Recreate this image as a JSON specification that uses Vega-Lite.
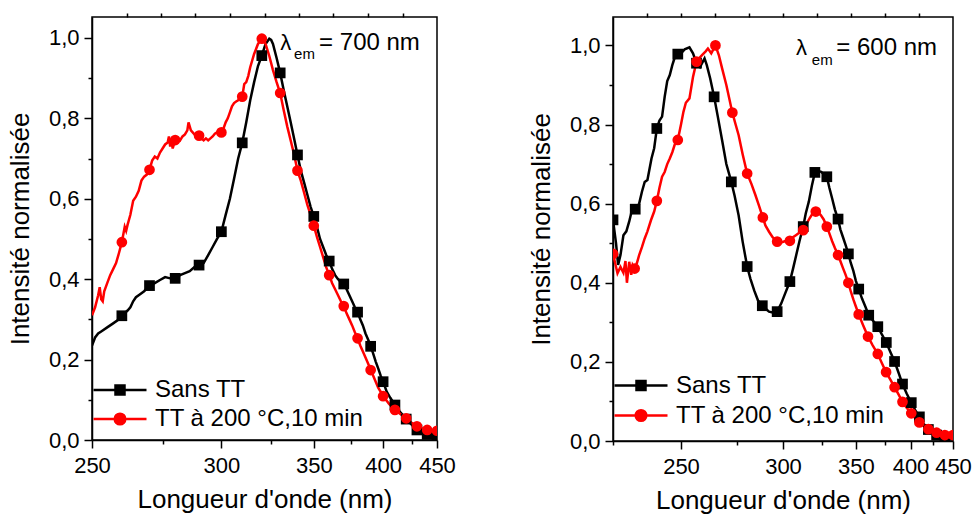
{
  "$schema": "https://vega.github.io/schema/vega-lite/v6.json",
  "background": "white",
  "padding": {"left": 6, "top": 11, "right": 5, "bottom": 0},
  "config": {
    "font": "Liberation Sans",
    "view": {"stroke": "black", "strokeWidth": 1.5},
    "axis": {
      "grid": false,
      "domainColor": "black",
      "domainWidth": 1.5,
      "tickColor": "black",
      "tickWidth": 1.5,
      "labelColor": "black",
      "titleColor": "black",
      "labelFontSize": 22,
      "titleFontSize": 26,
      "titleFontWeight": "normal",
      "labelFlush": false,
      "labelOverlap": false
    }
  },
  "datasets": {
    "L_line": [
      {"wl":250,"v":0.235,"series":"Sans TT"},{"wl":251,"v":0.255,"series":"Sans TT"},{"wl":252,"v":0.265,"series":"Sans TT"},{"wl":253,"v":0.27,"series":"Sans TT"},{"wl":255,"v":0.28,"series":"Sans TT"},{"wl":257,"v":0.29,"series":"Sans TT"},{"wl":259,"v":0.3,"series":"Sans TT"},{"wl":260,"v":0.309,"series":"Sans TT"},{"wl":262,"v":0.322,"series":"Sans TT"},{"wl":263,"v":0.33,"series":"Sans TT"},{"wl":264,"v":0.345,"series":"Sans TT"},{"wl":265,"v":0.355,"series":"Sans TT"},{"wl":266,"v":0.36,"series":"Sans TT"},{"wl":268,"v":0.37,"series":"Sans TT"},{"wl":270,"v":0.384,"series":"Sans TT"},{"wl":272,"v":0.39,"series":"Sans TT"},{"wl":274,"v":0.398,"series":"Sans TT"},{"wl":276,"v":0.405,"series":"Sans TT"},{"wl":278,"v":0.402,"series":"Sans TT"},{"wl":280,"v":0.402,"series":"Sans TT"},{"wl":282,"v":0.41,"series":"Sans TT"},{"wl":284,"v":0.415,"series":"Sans TT"},{"wl":286,"v":0.42,"series":"Sans TT"},{"wl":288,"v":0.43,"series":"Sans TT"},{"wl":290,"v":0.435,"series":"Sans TT"},{"wl":292,"v":0.44,"series":"Sans TT"},{"wl":294,"v":0.46,"series":"Sans TT"},{"wl":296,"v":0.48,"series":"Sans TT"},{"wl":298,"v":0.5,"series":"Sans TT"},{"wl":300,"v":0.518,"series":"Sans TT"},{"wl":302,"v":0.56,"series":"Sans TT"},{"wl":304,"v":0.6,"series":"Sans TT"},{"wl":306,"v":0.65,"series":"Sans TT"},{"wl":308,"v":0.7,"series":"Sans TT"},{"wl":310,"v":0.739,"series":"Sans TT"},{"wl":312,"v":0.79,"series":"Sans TT"},{"wl":314,"v":0.845,"series":"Sans TT"},{"wl":316,"v":0.89,"series":"Sans TT"},{"wl":318,"v":0.93,"series":"Sans TT"},{"wl":320,"v":0.956,"series":"Sans TT"},{"wl":322,"v":0.985,"series":"Sans TT"},{"wl":324,"v":0.998,"series":"Sans TT"},{"wl":325,"v":0.995,"series":"Sans TT"},{"wl":326,"v":0.985,"series":"Sans TT"},{"wl":328,"v":0.95,"series":"Sans TT"},{"wl":330,"v":0.913,"series":"Sans TT"},{"wl":332,"v":0.87,"series":"Sans TT"},{"wl":334,"v":0.83,"series":"Sans TT"},{"wl":336,"v":0.79,"series":"Sans TT"},{"wl":338,"v":0.75,"series":"Sans TT"},{"wl":340,"v":0.709,"series":"Sans TT"},{"wl":342,"v":0.67,"series":"Sans TT"},{"wl":344,"v":0.64,"series":"Sans TT"},{"wl":346,"v":0.61,"series":"Sans TT"},{"wl":348,"v":0.58,"series":"Sans TT"},{"wl":350,"v":0.556,"series":"Sans TT"},{"wl":352,"v":0.53,"series":"Sans TT"},{"wl":354,"v":0.5,"series":"Sans TT"},{"wl":356,"v":0.48,"series":"Sans TT"},{"wl":358,"v":0.46,"series":"Sans TT"},{"wl":360,"v":0.445,"series":"Sans TT"},{"wl":362,"v":0.425,"series":"Sans TT"},{"wl":364,"v":0.41,"series":"Sans TT"},{"wl":366,"v":0.4,"series":"Sans TT"},{"wl":368,"v":0.393,"series":"Sans TT"},{"wl":370,"v":0.388,"series":"Sans TT"},{"wl":372,"v":0.375,"series":"Sans TT"},{"wl":374,"v":0.36,"series":"Sans TT"},{"wl":376,"v":0.345,"series":"Sans TT"},{"wl":378,"v":0.33,"series":"Sans TT"},{"wl":380,"v":0.318,"series":"Sans TT"},{"wl":382,"v":0.3,"series":"Sans TT"},{"wl":384,"v":0.285,"series":"Sans TT"},{"wl":386,"v":0.265,"series":"Sans TT"},{"wl":388,"v":0.25,"series":"Sans TT"},{"wl":390,"v":0.233,"series":"Sans TT"},{"wl":392,"v":0.215,"series":"Sans TT"},{"wl":394,"v":0.195,"series":"Sans TT"},{"wl":396,"v":0.178,"series":"Sans TT"},{"wl":398,"v":0.16,"series":"Sans TT"},{"wl":400,"v":0.145,"series":"Sans TT"},{"wl":403,"v":0.12,"series":"Sans TT"},{"wl":406,"v":0.105,"series":"Sans TT"},{"wl":410,"v":0.087,"series":"Sans TT"},{"wl":415,"v":0.068,"series":"Sans TT"},{"wl":420,"v":0.052,"series":"Sans TT"},{"wl":425,"v":0.038,"series":"Sans TT"},{"wl":430,"v":0.025,"series":"Sans TT"},{"wl":435,"v":0.018,"series":"Sans TT"},{"wl":440,"v":0.014,"series":"Sans TT"},{"wl":445,"v":0.01,"series":"Sans TT"},{"wl":450,"v":0.006,"series":"Sans TT"},
      {"wl":250,"v":0.31,"series":"TT à 200 °C,10 min"},{"wl":251,"v":0.33,"series":"TT à 200 °C,10 min"},{"wl":252,"v":0.36,"series":"TT à 200 °C,10 min"},{"wl":252.5,"v":0.38,"series":"TT à 200 °C,10 min"},{"wl":253,"v":0.35,"series":"TT à 200 °C,10 min"},{"wl":253.5,"v":0.345,"series":"TT à 200 °C,10 min"},{"wl":254,"v":0.37,"series":"TT à 200 °C,10 min"},{"wl":255,"v":0.39,"series":"TT à 200 °C,10 min"},{"wl":256,"v":0.41,"series":"TT à 200 °C,10 min"},{"wl":257,"v":0.425,"series":"TT à 200 °C,10 min"},{"wl":258,"v":0.44,"series":"TT à 200 °C,10 min"},{"wl":259,"v":0.465,"series":"TT à 200 °C,10 min"},{"wl":260,"v":0.492,"series":"TT à 200 °C,10 min"},{"wl":261,"v":0.53,"series":"TT à 200 °C,10 min"},{"wl":261.5,"v":0.52,"series":"TT à 200 °C,10 min"},{"wl":262,"v":0.535,"series":"TT à 200 °C,10 min"},{"wl":263,"v":0.56,"series":"TT à 200 °C,10 min"},{"wl":264,"v":0.595,"series":"TT à 200 °C,10 min"},{"wl":265,"v":0.605,"series":"TT à 200 °C,10 min"},{"wl":266,"v":0.62,"series":"TT à 200 °C,10 min"},{"wl":267,"v":0.645,"series":"TT à 200 °C,10 min"},{"wl":268,"v":0.655,"series":"TT à 200 °C,10 min"},{"wl":269,"v":0.66,"series":"TT à 200 °C,10 min"},{"wl":270,"v":0.672,"series":"TT à 200 °C,10 min"},{"wl":271,"v":0.695,"series":"TT à 200 °C,10 min"},{"wl":272,"v":0.705,"series":"TT à 200 °C,10 min"},{"wl":273,"v":0.7,"series":"TT à 200 °C,10 min"},{"wl":274,"v":0.715,"series":"TT à 200 °C,10 min"},{"wl":275,"v":0.725,"series":"TT à 200 °C,10 min"},{"wl":276,"v":0.735,"series":"TT à 200 °C,10 min"},{"wl":277,"v":0.74,"series":"TT à 200 °C,10 min"},{"wl":277.5,"v":0.755,"series":"TT à 200 °C,10 min"},{"wl":278,"v":0.73,"series":"TT à 200 °C,10 min"},{"wl":278.5,"v":0.745,"series":"TT à 200 °C,10 min"},{"wl":279,"v":0.725,"series":"TT à 200 °C,10 min"},{"wl":280,"v":0.746,"series":"TT à 200 °C,10 min"},{"wl":281,"v":0.75,"series":"TT à 200 °C,10 min"},{"wl":282,"v":0.745,"series":"TT à 200 °C,10 min"},{"wl":283,"v":0.755,"series":"TT à 200 °C,10 min"},{"wl":284,"v":0.76,"series":"TT à 200 °C,10 min"},{"wl":285,"v":0.77,"series":"TT à 200 °C,10 min"},{"wl":285.5,"v":0.79,"series":"TT à 200 °C,10 min"},{"wl":286.5,"v":0.77,"series":"TT à 200 °C,10 min"},{"wl":288,"v":0.76,"series":"TT à 200 °C,10 min"},{"wl":289,"v":0.755,"series":"TT à 200 °C,10 min"},{"wl":290,"v":0.757,"series":"TT à 200 °C,10 min"},{"wl":291,"v":0.75,"series":"TT à 200 °C,10 min"},{"wl":292,"v":0.745,"series":"TT à 200 °C,10 min"},{"wl":293,"v":0.75,"series":"TT à 200 °C,10 min"},{"wl":294,"v":0.745,"series":"TT à 200 °C,10 min"},{"wl":295,"v":0.75,"series":"TT à 200 °C,10 min"},{"wl":296,"v":0.755,"series":"TT à 200 °C,10 min"},{"wl":297,"v":0.762,"series":"TT à 200 °C,10 min"},{"wl":298,"v":0.765,"series":"TT à 200 °C,10 min"},{"wl":299,"v":0.76,"series":"TT à 200 °C,10 min"},{"wl":300,"v":0.765,"series":"TT à 200 °C,10 min"},{"wl":301,"v":0.775,"series":"TT à 200 °C,10 min"},{"wl":302,"v":0.79,"series":"TT à 200 °C,10 min"},{"wl":303,"v":0.8,"series":"TT à 200 °C,10 min"},{"wl":304,"v":0.815,"series":"TT à 200 °C,10 min"},{"wl":305,"v":0.83,"series":"TT à 200 °C,10 min"},{"wl":306,"v":0.838,"series":"TT à 200 °C,10 min"},{"wl":307,"v":0.842,"series":"TT à 200 °C,10 min"},{"wl":308,"v":0.845,"series":"TT à 200 °C,10 min"},{"wl":309,"v":0.85,"series":"TT à 200 °C,10 min"},{"wl":310,"v":0.854,"series":"TT à 200 °C,10 min"},{"wl":311,"v":0.885,"series":"TT à 200 °C,10 min"},{"wl":312,"v":0.89,"series":"TT à 200 °C,10 min"},{"wl":313,"v":0.905,"series":"TT à 200 °C,10 min"},{"wl":314,"v":0.927,"series":"TT à 200 °C,10 min"},{"wl":316,"v":0.96,"series":"TT à 200 °C,10 min"},{"wl":318,"v":0.985,"series":"TT à 200 °C,10 min"},{"wl":320,"v":0.998,"series":"TT à 200 °C,10 min"},{"wl":321,"v":0.995,"series":"TT à 200 °C,10 min"},{"wl":322,"v":0.985,"series":"TT à 200 °C,10 min"},{"wl":324,"v":0.955,"series":"TT à 200 °C,10 min"},{"wl":326,"v":0.92,"series":"TT à 200 °C,10 min"},{"wl":328,"v":0.89,"series":"TT à 200 °C,10 min"},{"wl":330,"v":0.863,"series":"TT à 200 °C,10 min"},{"wl":332,"v":0.82,"series":"TT à 200 °C,10 min"},{"wl":334,"v":0.78,"series":"TT à 200 °C,10 min"},{"wl":336,"v":0.745,"series":"TT à 200 °C,10 min"},{"wl":338,"v":0.71,"series":"TT à 200 °C,10 min"},{"wl":340,"v":0.67,"series":"TT à 200 °C,10 min"},{"wl":342,"v":0.645,"series":"TT à 200 °C,10 min"},{"wl":344,"v":0.615,"series":"TT à 200 °C,10 min"},{"wl":346,"v":0.585,"series":"TT à 200 °C,10 min"},{"wl":348,"v":0.56,"series":"TT à 200 °C,10 min"},{"wl":350,"v":0.533,"series":"TT à 200 °C,10 min"},{"wl":352,"v":0.505,"series":"TT à 200 °C,10 min"},{"wl":354,"v":0.48,"series":"TT à 200 °C,10 min"},{"wl":356,"v":0.455,"series":"TT à 200 °C,10 min"},{"wl":358,"v":0.43,"series":"TT à 200 °C,10 min"},{"wl":360,"v":0.41,"series":"TT à 200 °C,10 min"},{"wl":362,"v":0.39,"series":"TT à 200 °C,10 min"},{"wl":364,"v":0.375,"series":"TT à 200 °C,10 min"},{"wl":366,"v":0.36,"series":"TT à 200 °C,10 min"},{"wl":368,"v":0.345,"series":"TT à 200 °C,10 min"},{"wl":370,"v":0.333,"series":"TT à 200 °C,10 min"},{"wl":372,"v":0.315,"series":"TT à 200 °C,10 min"},{"wl":374,"v":0.3,"series":"TT à 200 °C,10 min"},{"wl":376,"v":0.285,"series":"TT à 200 °C,10 min"},{"wl":378,"v":0.268,"series":"TT à 200 °C,10 min"},{"wl":380,"v":0.253,"series":"TT à 200 °C,10 min"},{"wl":382,"v":0.235,"series":"TT à 200 °C,10 min"},{"wl":384,"v":0.22,"series":"TT à 200 °C,10 min"},{"wl":386,"v":0.205,"series":"TT à 200 °C,10 min"},{"wl":388,"v":0.19,"series":"TT à 200 °C,10 min"},{"wl":390,"v":0.174,"series":"TT à 200 °C,10 min"},{"wl":392,"v":0.16,"series":"TT à 200 °C,10 min"},{"wl":394,"v":0.145,"series":"TT à 200 °C,10 min"},{"wl":396,"v":0.13,"series":"TT à 200 °C,10 min"},{"wl":398,"v":0.12,"series":"TT à 200 °C,10 min"},{"wl":400,"v":0.109,"series":"TT à 200 °C,10 min"},{"wl":405,"v":0.09,"series":"TT à 200 °C,10 min"},{"wl":410,"v":0.075,"series":"TT à 200 °C,10 min"},{"wl":415,"v":0.064,"series":"TT à 200 °C,10 min"},{"wl":420,"v":0.054,"series":"TT à 200 °C,10 min"},{"wl":425,"v":0.043,"series":"TT à 200 °C,10 min"},{"wl":430,"v":0.034,"series":"TT à 200 °C,10 min"},{"wl":435,"v":0.029,"series":"TT à 200 °C,10 min"},{"wl":440,"v":0.025,"series":"TT à 200 °C,10 min"},{"wl":445,"v":0.024,"series":"TT à 200 °C,10 min"},{"wl":450,"v":0.023,"series":"TT à 200 °C,10 min"}
    ],
    "L_pts": [
      {"wl":260,"v":0.309,"series":"Sans TT"},{"wl":270,"v":0.384,"series":"Sans TT"},{"wl":280,"v":0.402,"series":"Sans TT"},{"wl":290,"v":0.435,"series":"Sans TT"},{"wl":300,"v":0.518,"series":"Sans TT"},{"wl":310,"v":0.739,"series":"Sans TT"},{"wl":320,"v":0.956,"series":"Sans TT"},{"wl":330,"v":0.913,"series":"Sans TT"},{"wl":340,"v":0.709,"series":"Sans TT"},{"wl":350,"v":0.556,"series":"Sans TT"},{"wl":360,"v":0.445,"series":"Sans TT"},{"wl":370,"v":0.388,"series":"Sans TT"},{"wl":380,"v":0.318,"series":"Sans TT"},{"wl":390,"v":0.233,"series":"Sans TT"},{"wl":400,"v":0.145,"series":"Sans TT"},{"wl":410,"v":0.087,"series":"Sans TT"},{"wl":420,"v":0.052,"series":"Sans TT"},{"wl":430,"v":0.025,"series":"Sans TT"},{"wl":440,"v":0.014,"series":"Sans TT"},{"wl":450,"v":0.006,"series":"Sans TT"},
      {"wl":260,"v":0.492,"series":"TT à 200 °C,10 min"},{"wl":270,"v":0.672,"series":"TT à 200 °C,10 min"},{"wl":280,"v":0.746,"series":"TT à 200 °C,10 min"},{"wl":290,"v":0.757,"series":"TT à 200 °C,10 min"},{"wl":300,"v":0.765,"series":"TT à 200 °C,10 min"},{"wl":310,"v":0.854,"series":"TT à 200 °C,10 min"},{"wl":320,"v":0.998,"series":"TT à 200 °C,10 min"},{"wl":330,"v":0.863,"series":"TT à 200 °C,10 min"},{"wl":340,"v":0.67,"series":"TT à 200 °C,10 min"},{"wl":350,"v":0.533,"series":"TT à 200 °C,10 min"},{"wl":360,"v":0.41,"series":"TT à 200 °C,10 min"},{"wl":370,"v":0.333,"series":"TT à 200 °C,10 min"},{"wl":380,"v":0.253,"series":"TT à 200 °C,10 min"},{"wl":390,"v":0.174,"series":"TT à 200 °C,10 min"},{"wl":400,"v":0.109,"series":"TT à 200 °C,10 min"},{"wl":410,"v":0.075,"series":"TT à 200 °C,10 min"},{"wl":420,"v":0.054,"series":"TT à 200 °C,10 min"},{"wl":430,"v":0.034,"series":"TT à 200 °C,10 min"},{"wl":440,"v":0.025,"series":"TT à 200 °C,10 min"},{"wl":450,"v":0.023,"series":"TT à 200 °C,10 min"}
    ],
    "R_line": [
      {"wl":225,"v":0.559,"series":"Sans TT"},{"wl":226,"v":0.5,"series":"Sans TT"},{"wl":226.7,"v":0.445,"series":"Sans TT"},{"wl":227.5,"v":0.47,"series":"Sans TT"},{"wl":228.5,"v":0.52,"series":"Sans TT"},{"wl":229.5,"v":0.53,"series":"Sans TT"},{"wl":230.5,"v":0.555,"series":"Sans TT"},{"wl":231.5,"v":0.585,"series":"Sans TT"},{"wl":232.6,"v":0.586,"series":"Sans TT"},{"wl":234,"v":0.6,"series":"Sans TT"},{"wl":235,"v":0.63,"series":"Sans TT"},{"wl":236,"v":0.655,"series":"Sans TT"},{"wl":237,"v":0.66,"series":"Sans TT"},{"wl":238.5,"v":0.714,"series":"Sans TT"},{"wl":239.5,"v":0.74,"series":"Sans TT"},{"wl":240.5,"v":0.79,"series":"Sans TT"},{"wl":241.5,"v":0.81,"series":"Sans TT"},{"wl":242.5,"v":0.82,"series":"Sans TT"},{"wl":243.5,"v":0.87,"series":"Sans TT"},{"wl":244.5,"v":0.91,"series":"Sans TT"},{"wl":245.5,"v":0.925,"series":"Sans TT"},{"wl":246.5,"v":0.95,"series":"Sans TT"},{"wl":247.5,"v":0.97,"series":"Sans TT"},{"wl":248.7,"v":0.978,"series":"Sans TT"},{"wl":250,"v":0.98,"series":"Sans TT"},{"wl":251.5,"v":0.99,"series":"Sans TT"},{"wl":253.5,"v":0.995,"series":"Sans TT"},{"wl":255,"v":0.98,"series":"Sans TT"},{"wl":256.5,"v":0.955,"series":"Sans TT"},{"wl":258,"v":0.945,"series":"Sans TT"},{"wl":260,"v":0.967,"series":"Sans TT"},{"wl":261,"v":0.95,"series":"Sans TT"},{"wl":262.5,"v":0.917,"series":"Sans TT"},{"wl":264.3,"v":0.87,"series":"Sans TT"},{"wl":266,"v":0.82,"series":"Sans TT"},{"wl":268,"v":0.76,"series":"Sans TT"},{"wl":270,"v":0.7,"series":"Sans TT"},{"wl":272.4,"v":0.655,"series":"Sans TT"},{"wl":274,"v":0.62,"series":"Sans TT"},{"wl":276,"v":0.57,"series":"Sans TT"},{"wl":278,"v":0.504,"series":"Sans TT"},{"wl":280.3,"v":0.441,"series":"Sans TT"},{"wl":282,"v":0.41,"series":"Sans TT"},{"wl":284,"v":0.38,"series":"Sans TT"},{"wl":286,"v":0.355,"series":"Sans TT"},{"wl":288.3,"v":0.342,"series":"Sans TT"},{"wl":290,"v":0.335,"series":"Sans TT"},{"wl":292,"v":0.327,"series":"Sans TT"},{"wl":294,"v":0.325,"series":"Sans TT"},{"wl":296.6,"v":0.327,"series":"Sans TT"},{"wl":299,"v":0.348,"series":"Sans TT"},{"wl":301,"v":0.37,"series":"Sans TT"},{"wl":304.1,"v":0.403,"series":"Sans TT"},{"wl":306,"v":0.435,"series":"Sans TT"},{"wl":308,"v":0.47,"series":"Sans TT"},{"wl":310,"v":0.505,"series":"Sans TT"},{"wl":312.4,"v":0.542,"series":"Sans TT"},{"wl":314,"v":0.575,"series":"Sans TT"},{"wl":316,"v":0.605,"series":"Sans TT"},{"wl":318,"v":0.645,"series":"Sans TT"},{"wl":320,"v":0.679,"series":"Sans TT"},{"wl":322,"v":0.682,"series":"Sans TT"},{"wl":324,"v":0.681,"series":"Sans TT"},{"wl":326,"v":0.675,"series":"Sans TT"},{"wl":328.2,"v":0.668,"series":"Sans TT"},{"wl":330,"v":0.64,"series":"Sans TT"},{"wl":332,"v":0.613,"series":"Sans TT"},{"wl":334,"v":0.585,"series":"Sans TT"},{"wl":336.3,"v":0.561,"series":"Sans TT"},{"wl":338,"v":0.535,"series":"Sans TT"},{"wl":340,"v":0.515,"series":"Sans TT"},{"wl":342,"v":0.495,"series":"Sans TT"},{"wl":344.1,"v":0.473,"series":"Sans TT"},{"wl":346,"v":0.45,"series":"Sans TT"},{"wl":348,"v":0.43,"series":"Sans TT"},{"wl":350,"v":0.405,"series":"Sans TT"},{"wl":352.3,"v":0.384,"series":"Sans TT"},{"wl":355,"v":0.36,"series":"Sans TT"},{"wl":358,"v":0.338,"series":"Sans TT"},{"wl":360.6,"v":0.318,"series":"Sans TT"},{"wl":364,"v":0.305,"series":"Sans TT"},{"wl":368.5,"v":0.289,"series":"Sans TT"},{"wl":372,"v":0.27,"series":"Sans TT"},{"wl":376.2,"v":0.249,"series":"Sans TT"},{"wl":380,"v":0.225,"series":"Sans TT"},{"wl":384,"v":0.201,"series":"Sans TT"},{"wl":388,"v":0.172,"series":"Sans TT"},{"wl":391.8,"v":0.144,"series":"Sans TT"},{"wl":396,"v":0.12,"series":"Sans TT"},{"wl":400.8,"v":0.097,"series":"Sans TT"},{"wl":405,"v":0.078,"series":"Sans TT"},{"wl":409.5,"v":0.061,"series":"Sans TT"},{"wl":414,"v":0.044,"series":"Sans TT"},{"wl":419.6,"v":0.029,"series":"Sans TT"},{"wl":425,"v":0.02,"series":"Sans TT"},{"wl":429.3,"v":0.015,"series":"Sans TT"},{"wl":435,"v":0.01,"series":"Sans TT"},{"wl":439.5,"v":0.007,"series":"Sans TT"},{"wl":445,"v":0.005,"series":"Sans TT"},{"wl":450,"v":0.004,"series":"Sans TT"},
      {"wl":225,"v":0.473,"series":"TT à 200 °C,10 min"},{"wl":225.7,"v":0.45,"series":"TT à 200 °C,10 min"},{"wl":226.5,"v":0.424,"series":"TT à 200 °C,10 min"},{"wl":227.5,"v":0.44,"series":"TT à 200 °C,10 min"},{"wl":228.5,"v":0.425,"series":"TT à 200 °C,10 min"},{"wl":229.2,"v":0.455,"series":"TT à 200 °C,10 min"},{"wl":229.7,"v":0.4,"series":"TT à 200 °C,10 min"},{"wl":230.5,"v":0.453,"series":"TT à 200 °C,10 min"},{"wl":231.2,"v":0.42,"series":"TT à 200 °C,10 min"},{"wl":231.7,"v":0.445,"series":"TT à 200 °C,10 min"},{"wl":232.4,"v":0.436,"series":"TT à 200 °C,10 min"},{"wl":233.2,"v":0.45,"series":"TT à 200 °C,10 min"},{"wl":234,"v":0.47,"series":"TT à 200 °C,10 min"},{"wl":235,"v":0.49,"series":"TT à 200 °C,10 min"},{"wl":236,"v":0.512,"series":"TT à 200 °C,10 min"},{"wl":237,"v":0.53,"series":"TT à 200 °C,10 min"},{"wl":238.3,"v":0.558,"series":"TT à 200 °C,10 min"},{"wl":239.5,"v":0.58,"series":"TT à 200 °C,10 min"},{"wl":240.5,"v":0.607,"series":"TT à 200 °C,10 min"},{"wl":241.5,"v":0.64,"series":"TT à 200 °C,10 min"},{"wl":242.5,"v":0.668,"series":"TT à 200 °C,10 min"},{"wl":243.5,"v":0.68,"series":"TT à 200 °C,10 min"},{"wl":244.5,"v":0.7,"series":"TT à 200 °C,10 min"},{"wl":245.5,"v":0.714,"series":"TT à 200 °C,10 min"},{"wl":246.5,"v":0.73,"series":"TT à 200 °C,10 min"},{"wl":247.5,"v":0.75,"series":"TT à 200 °C,10 min"},{"wl":248.7,"v":0.761,"series":"TT à 200 °C,10 min"},{"wl":250,"v":0.8,"series":"TT à 200 °C,10 min"},{"wl":251,"v":0.832,"series":"TT à 200 °C,10 min"},{"wl":252,"v":0.855,"series":"TT à 200 °C,10 min"},{"wl":253.5,"v":0.866,"series":"TT à 200 °C,10 min"},{"wl":255,"v":0.92,"series":"TT à 200 °C,10 min"},{"wl":256.5,"v":0.959,"series":"TT à 200 °C,10 min"},{"wl":258,"v":0.97,"series":"TT à 200 °C,10 min"},{"wl":259,"v":0.976,"series":"TT à 200 °C,10 min"},{"wl":260.5,"v":0.985,"series":"TT à 200 °C,10 min"},{"wl":261.5,"v":0.992,"series":"TT à 200 °C,10 min"},{"wl":263,"v":0.98,"series":"TT à 200 °C,10 min"},{"wl":264.9,"v":1.0,"series":"TT à 200 °C,10 min"},{"wl":266.5,"v":0.975,"series":"TT à 200 °C,10 min"},{"wl":268,"v":0.942,"series":"TT à 200 °C,10 min"},{"wl":270,"v":0.9,"series":"TT à 200 °C,10 min"},{"wl":272.9,"v":0.83,"series":"TT à 200 °C,10 min"},{"wl":274.5,"v":0.8,"series":"TT à 200 °C,10 min"},{"wl":276,"v":0.773,"series":"TT à 200 °C,10 min"},{"wl":278,"v":0.725,"series":"TT à 200 °C,10 min"},{"wl":280.3,"v":0.676,"series":"TT à 200 °C,10 min"},{"wl":282.5,"v":0.65,"series":"TT à 200 °C,10 min"},{"wl":284.5,"v":0.623,"series":"TT à 200 °C,10 min"},{"wl":286.5,"v":0.595,"series":"TT à 200 °C,10 min"},{"wl":288.6,"v":0.565,"series":"TT à 200 °C,10 min"},{"wl":290,"v":0.545,"series":"TT à 200 °C,10 min"},{"wl":292,"v":0.529,"series":"TT à 200 °C,10 min"},{"wl":294,"v":0.515,"series":"TT à 200 °C,10 min"},{"wl":296.6,"v":0.504,"series":"TT à 200 °C,10 min"},{"wl":299,"v":0.502,"series":"TT à 200 °C,10 min"},{"wl":301,"v":0.505,"series":"TT à 200 °C,10 min"},{"wl":304.1,"v":0.506,"series":"TT à 200 °C,10 min"},{"wl":306,"v":0.515,"series":"TT à 200 °C,10 min"},{"wl":308,"v":0.521,"series":"TT à 200 °C,10 min"},{"wl":310,"v":0.527,"series":"TT à 200 °C,10 min"},{"wl":312.4,"v":0.533,"series":"TT à 200 °C,10 min"},{"wl":314,"v":0.545,"series":"TT à 200 °C,10 min"},{"wl":316.5,"v":0.563,"series":"TT à 200 °C,10 min"},{"wl":318.5,"v":0.575,"series":"TT à 200 °C,10 min"},{"wl":320.6,"v":0.58,"series":"TT à 200 °C,10 min"},{"wl":322,"v":0.578,"series":"TT à 200 °C,10 min"},{"wl":324,"v":0.571,"series":"TT à 200 °C,10 min"},{"wl":326,"v":0.56,"series":"TT à 200 °C,10 min"},{"wl":328.2,"v":0.542,"series":"TT à 200 °C,10 min"},{"wl":330,"v":0.525,"series":"TT à 200 °C,10 min"},{"wl":332,"v":0.505,"series":"TT à 200 °C,10 min"},{"wl":334,"v":0.488,"series":"TT à 200 °C,10 min"},{"wl":336.3,"v":0.47,"series":"TT à 200 °C,10 min"},{"wl":338,"v":0.455,"series":"TT à 200 °C,10 min"},{"wl":340,"v":0.437,"series":"TT à 200 °C,10 min"},{"wl":342,"v":0.42,"series":"TT à 200 °C,10 min"},{"wl":344.1,"v":0.4,"series":"TT à 200 °C,10 min"},{"wl":346,"v":0.378,"series":"TT à 200 °C,10 min"},{"wl":348,"v":0.358,"series":"TT à 200 °C,10 min"},{"wl":350,"v":0.34,"series":"TT à 200 °C,10 min"},{"wl":352.3,"v":0.32,"series":"TT à 200 °C,10 min"},{"wl":356,"v":0.292,"series":"TT à 200 °C,10 min"},{"wl":360,"v":0.264,"series":"TT à 200 °C,10 min"},{"wl":364,"v":0.242,"series":"TT à 200 °C,10 min"},{"wl":368.5,"v":0.22,"series":"TT à 200 °C,10 min"},{"wl":372,"v":0.198,"series":"TT à 200 °C,10 min"},{"wl":376,"v":0.174,"series":"TT à 200 °C,10 min"},{"wl":380,"v":0.155,"series":"TT à 200 °C,10 min"},{"wl":384,"v":0.136,"series":"TT à 200 °C,10 min"},{"wl":388,"v":0.117,"series":"TT à 200 °C,10 min"},{"wl":391.8,"v":0.099,"series":"TT à 200 °C,10 min"},{"wl":396,"v":0.084,"series":"TT à 200 °C,10 min"},{"wl":400.8,"v":0.07,"series":"TT à 200 °C,10 min"},{"wl":405,"v":0.058,"series":"TT à 200 °C,10 min"},{"wl":409.5,"v":0.047,"series":"TT à 200 °C,10 min"},{"wl":414,"v":0.038,"series":"TT à 200 °C,10 min"},{"wl":419.6,"v":0.03,"series":"TT à 200 °C,10 min"},{"wl":425,"v":0.025,"series":"TT à 200 °C,10 min"},{"wl":429.3,"v":0.021,"series":"TT à 200 °C,10 min"},{"wl":435,"v":0.018,"series":"TT à 200 °C,10 min"},{"wl":439.5,"v":0.015,"series":"TT à 200 °C,10 min"},{"wl":445,"v":0.015,"series":"TT à 200 °C,10 min"},{"wl":450,"v":0.015,"series":"TT à 200 °C,10 min"}
    ],
    "R_pts": [
      {"wl":225,"v":0.559,"series":"Sans TT"},{"wl":232.6,"v":0.586,"series":"Sans TT"},{"wl":240.5,"v":0.79,"series":"Sans TT"},{"wl":248.7,"v":0.978,"series":"Sans TT"},{"wl":256.5,"v":0.955,"series":"Sans TT"},{"wl":264.3,"v":0.87,"series":"Sans TT"},{"wl":272.4,"v":0.655,"series":"Sans TT"},{"wl":280.3,"v":0.441,"series":"Sans TT"},{"wl":288.3,"v":0.342,"series":"Sans TT"},{"wl":296.6,"v":0.327,"series":"Sans TT"},{"wl":304.1,"v":0.403,"series":"Sans TT"},{"wl":312.4,"v":0.542,"series":"Sans TT"},{"wl":320,"v":0.679,"series":"Sans TT"},{"wl":328.2,"v":0.668,"series":"Sans TT"},{"wl":336.3,"v":0.561,"series":"Sans TT"},{"wl":344.1,"v":0.473,"series":"Sans TT"},{"wl":352.3,"v":0.384,"series":"Sans TT"},{"wl":360.6,"v":0.318,"series":"Sans TT"},{"wl":368.5,"v":0.289,"series":"Sans TT"},{"wl":376.2,"v":0.249,"series":"Sans TT"},{"wl":384,"v":0.201,"series":"Sans TT"},{"wl":391.8,"v":0.144,"series":"Sans TT"},{"wl":400.8,"v":0.097,"series":"Sans TT"},{"wl":409.5,"v":0.061,"series":"Sans TT"},{"wl":419.6,"v":0.029,"series":"Sans TT"},{"wl":429.3,"v":0.015,"series":"Sans TT"},{"wl":439.5,"v":0.007,"series":"Sans TT"},
      {"wl":225,"v":0.473,"series":"TT à 200 °C,10 min"},{"wl":232.4,"v":0.436,"series":"TT à 200 °C,10 min"},{"wl":240.5,"v":0.607,"series":"TT à 200 °C,10 min"},{"wl":248.7,"v":0.761,"series":"TT à 200 °C,10 min"},{"wl":256.5,"v":0.959,"series":"TT à 200 °C,10 min"},{"wl":264.9,"v":1.0,"series":"TT à 200 °C,10 min"},{"wl":272.9,"v":0.83,"series":"TT à 200 °C,10 min"},{"wl":280.3,"v":0.676,"series":"TT à 200 °C,10 min"},{"wl":288.6,"v":0.565,"series":"TT à 200 °C,10 min"},{"wl":296.6,"v":0.504,"series":"TT à 200 °C,10 min"},{"wl":304.1,"v":0.506,"series":"TT à 200 °C,10 min"},{"wl":312.4,"v":0.533,"series":"TT à 200 °C,10 min"},{"wl":320.6,"v":0.58,"series":"TT à 200 °C,10 min"},{"wl":328.2,"v":0.542,"series":"TT à 200 °C,10 min"},{"wl":336.3,"v":0.47,"series":"TT à 200 °C,10 min"},{"wl":344.1,"v":0.4,"series":"TT à 200 °C,10 min"},{"wl":352.3,"v":0.32,"series":"TT à 200 °C,10 min"},{"wl":360,"v":0.264,"series":"TT à 200 °C,10 min"},{"wl":368.5,"v":0.22,"series":"TT à 200 °C,10 min"},{"wl":376,"v":0.174,"series":"TT à 200 °C,10 min"},{"wl":384,"v":0.136,"series":"TT à 200 °C,10 min"},{"wl":391.8,"v":0.099,"series":"TT à 200 °C,10 min"},{"wl":400.8,"v":0.07,"series":"TT à 200 °C,10 min"},{"wl":409.5,"v":0.047,"series":"TT à 200 °C,10 min"},{"wl":419.6,"v":0.03,"series":"TT à 200 °C,10 min"},{"wl":429.3,"v":0.021,"series":"TT à 200 °C,10 min"},{"wl":439.5,"v":0.015,"series":"TT à 200 °C,10 min"},{"wl":450,"v":0.015,"series":"TT à 200 °C,10 min"}
    ]
  },
  "spacing": 70,
  "resolve": {"scale": {"color": "independent"}},
  "hconcat": [
    {
      "width": 345,
      "height": 423,
      "resolve": {"axis": {"x": "independent"}},
      "layer": [
        {
          "data": {"name": "L_line"},
          "mark": {"type": "line", "strokeWidth": 2.5, "clip": true},
          "encoding": {
            "x": {
              "field": "wl", "type": "quantitative", "title": "Longueur d'onde (nm)",
              "scale": {"type": "pow", "exponent": -1, "domain": [250, 450], "nice": false, "zero": false},
              "axis": {
                "orient": "bottom",
                "values": [250, 275, 300, 325, 350, 375, 400, 425, 450],
                "labelExpr": "datum.value % 50 === 0 ? datum.label : ''",
                "tickSize": {"condition": {"test": "datum.value % 50 !== 0", "value": 4}, "value": 8},
                "labelPadding": 7,
                "titlePadding": 10
              }
            },
            "y": {
              "field": "v", "type": "quantitative", "title": "Intensité normalisée",
              "scale": {"domain": [0, 1.052], "nice": false, "zero": false},
              "axis": {
                "values": [0, 0.1, 0.2, 0.3, 0.4, 0.5, 0.6, 0.7, 0.8, 0.9, 1.0],
                "labelExpr": "round(datum.value * 10) % 2 === 1 ? '' : replace(format(datum.value, '.1f'), '.', ',')",
                "tickSize": {"condition": {"test": "round(datum.value * 10) % 2 === 1", "value": 4}, "value": 8},
                "labelPadding": 5,
                "titlePadding": 15
              }
            },
            "color": {"field": "series", "type": "nominal", "scale": {"domain": ["Sans TT", "TT à 200 °C,10 min"], "range": ["#000000", "#ff0000"]}}
          }
        },
        {
          "data": {"name": "L_pts"},
          "transform": [{"filter": "datum.series === 'Sans TT'"}],
          "mark": {"type": "point", "shape": "square", "filled": true, "opacity": 1, "size": 115, "clip": true},
          "encoding": {
            "x": {"field": "wl", "type": "quantitative", "axis": {"orient": "top", "values": [261.63, 274.39, 288.46, 304.05, 321.43, 340.91, 362.9, 387.93, 416.67], "labels": false, "domain": false, "grid": false, "title": null, "ticks": true, "tickSize": 4}},
            "y": {"field": "v", "type": "quantitative"},
            "color": {
              "field": "series", "type": "nominal",
              "scale": {"domain": ["Sans TT", "TT à 200 °C,10 min"], "range": ["#000000", "#ff0000"]},
              "legend": {
                "orient": "none", "legendX": 0, "legendY": 358.5, "title": null,
                "labelFontSize": 24, "labelColor": "black", "labelLimit": 400, "labelOffset": 7,
                "symbolSize": 2809, "clipHeight": 29, "rowPadding": 0, "padding": 0,
                "symbolStrokeWidth": 2.5, "symbolOpacity": 1,
                "encode": {"symbols": {"update": {
                  "shape": {"signal": "datum.value === 'Sans TT' ? 'M-1,0H1M-0.17,-0.17H0.17V0.17H-0.17Z' : 'M-1,0H1M0.2,0A0.2,0.2 0 1,1 -0.2,0A0.2,0.2 0 1,1 0.2,0Z'"}
                }}}
              }
            }
          }
        },
        {
          "data": {"name": "L_pts"},
          "transform": [{"filter": "datum.series !== 'Sans TT'"}],
          "mark": {"type": "point", "shape": "circle", "filled": true, "opacity": 1, "size": 115, "clip": true},
          "encoding": {
            "x": {"field": "wl", "type": "quantitative", "axis": null},
            "y": {"field": "v", "type": "quantitative"},
            "color": {"field": "series", "type": "nominal", "scale": {"domain": ["Sans TT", "TT à 200 °C,10 min"], "range": ["#000000", "#ff0000"]}}
          }
        },
        {
          "data": {"values": [{}]},
          "mark": {"type": "text", "text": "λ", "align": "left", "baseline": "alphabetic", "fontSize": 22, "color": "black"},
          "encoding": {"x": {"datum": 330, "type": "quantitative", "axis": null}, "y": {"datum": 0.97, "type": "quantitative"}}
        },
        {
          "data": {"values": [{}]},
          "mark": {"type": "text", "text": "em", "align": "left", "baseline": "alphabetic", "fontSize": 15, "color": "black"},
          "encoding": {"x": {"datum": 338, "type": "quantitative", "axis": null}, "y": {"datum": 0.948, "type": "quantitative"}}
        },
        {
          "data": {"values": [{}]},
          "mark": {"type": "text", "text": "= 700 nm", "align": "left", "baseline": "alphabetic", "fontSize": 24, "color": "black"},
          "encoding": {"x": {"datum": 353.4, "type": "quantitative", "axis": null}, "y": {"datum": 0.97, "type": "quantitative"}}
        }
      ]
    },
    {
      "width": 340,
      "height": 424,
      "resolve": {"axis": {"x": "independent"}},
      "layer": [
        {
          "data": {"name": "R_line"},
          "mark": {"type": "line", "strokeWidth": 2.5, "clip": true},
          "encoding": {
            "x": {
              "field": "wl", "type": "quantitative", "title": "Longueur d'onde (nm)",
              "scale": {"type": "pow", "exponent": -1, "domain": [225, 450], "nice": false, "zero": false},
              "axis": {
                "orient": "bottom",
                "values": [225, 250, 275, 300, 325, 350, 375, 400, 425, 450],
                "labelExpr": "datum.value % 50 === 0 ? datum.label : ''",
                "tickSize": {"condition": {"test": "datum.value % 50 !== 0", "value": 4}, "value": 8},
                "labelPadding": 7,
                "titlePadding": 10
              }
            },
            "y": {
              "field": "v", "type": "quantitative", "title": "Intensité normalisée",
              "scale": {"domain": [0, 1.0718], "nice": false, "zero": false},
              "axis": {
                "values": [0, 0.1, 0.2, 0.3, 0.4, 0.5, 0.6, 0.7, 0.8, 0.9, 1.0],
                "labelExpr": "round(datum.value * 10) % 2 === 1 ? '' : replace(format(datum.value, '.1f'), '.', ',')",
                "tickSize": {"condition": {"test": "round(datum.value * 10) % 2 === 1", "value": 4}, "value": 8},
                "labelPadding": 5,
                "titlePadding": 15
              }
            },
            "color": {"field": "series", "type": "nominal", "scale": {"domain": ["Sans TT", "TT à 200 °C,10 min"], "range": ["#000000", "#ff0000"]}}
          }
        },
        {
          "data": {"name": "R_pts"},
          "transform": [{"filter": "datum.series === 'Sans TT'"}],
          "mark": {"type": "point", "shape": "square", "filled": true, "opacity": 1, "size": 115, "clip": true},
          "encoding": {
            "x": {"field": "wl", "type": "quantitative", "axis": {"orient": "top", "values": [236.84, 250, 264.71, 281.25, 300, 321.43, 346.15, 375, 409.09], "labels": false, "domain": false, "grid": false, "title": null, "ticks": true, "tickSize": 4}},
            "y": {"field": "v", "type": "quantitative"},
            "color": {
              "field": "series", "type": "nominal",
              "scale": {"domain": ["Sans TT", "TT à 200 °C,10 min"], "range": ["#000000", "#ff0000"]},
              "legend": {
                "orient": "none", "legendX": 0, "legendY": 353.5, "title": null,
                "labelFontSize": 24, "labelColor": "black", "labelLimit": 400, "labelOffset": 7,
                "symbolSize": 2809, "clipHeight": 30, "rowPadding": 0, "padding": 0,
                "symbolStrokeWidth": 2.5, "symbolOpacity": 1,
                "encode": {"symbols": {"update": {
                  "shape": {"signal": "datum.value === 'Sans TT' ? 'M-1,0H1M-0.17,-0.17H0.17V0.17H-0.17Z' : 'M-1,0H1M0.2,0A0.2,0.2 0 1,1 -0.2,0A0.2,0.2 0 1,1 0.2,0Z'"}
                }}}
              }
            }
          }
        },
        {
          "data": {"name": "R_pts"},
          "transform": [{"filter": "datum.series !== 'Sans TT'"}],
          "mark": {"type": "point", "shape": "circle", "filled": true, "opacity": 1, "size": 115, "clip": true},
          "encoding": {
            "x": {"field": "wl", "type": "quantitative", "axis": null},
            "y": {"field": "v", "type": "quantitative"},
            "color": {"field": "series", "type": "nominal", "scale": {"domain": ["Sans TT", "TT à 200 °C,10 min"], "range": ["#000000", "#ff0000"]}}
          }
        },
        {
          "data": {"values": [{}]},
          "mark": {"type": "text", "text": "λ", "align": "left", "baseline": "alphabetic", "fontSize": 22, "color": "black"},
          "encoding": {"x": {"datum": 307.8, "type": "quantitative", "axis": null}, "y": {"datum": 0.976, "type": "quantitative"}}
        },
        {
          "data": {"values": [{}]},
          "mark": {"type": "text", "text": "em", "align": "left", "baseline": "alphabetic", "fontSize": 15, "color": "black"},
          "encoding": {"x": {"datum": 318, "type": "quantitative", "axis": null}, "y": {"datum": 0.951, "type": "quantitative"}}
        },
        {
          "data": {"values": [{}]},
          "mark": {"type": "text", "text": "= 600 nm", "align": "left", "baseline": "alphabetic", "fontSize": 24, "color": "black"},
          "encoding": {"x": {"datum": 335, "type": "quantitative", "axis": null}, "y": {"datum": 0.976, "type": "quantitative"}}
        }
      ]
    }
  ]
}
